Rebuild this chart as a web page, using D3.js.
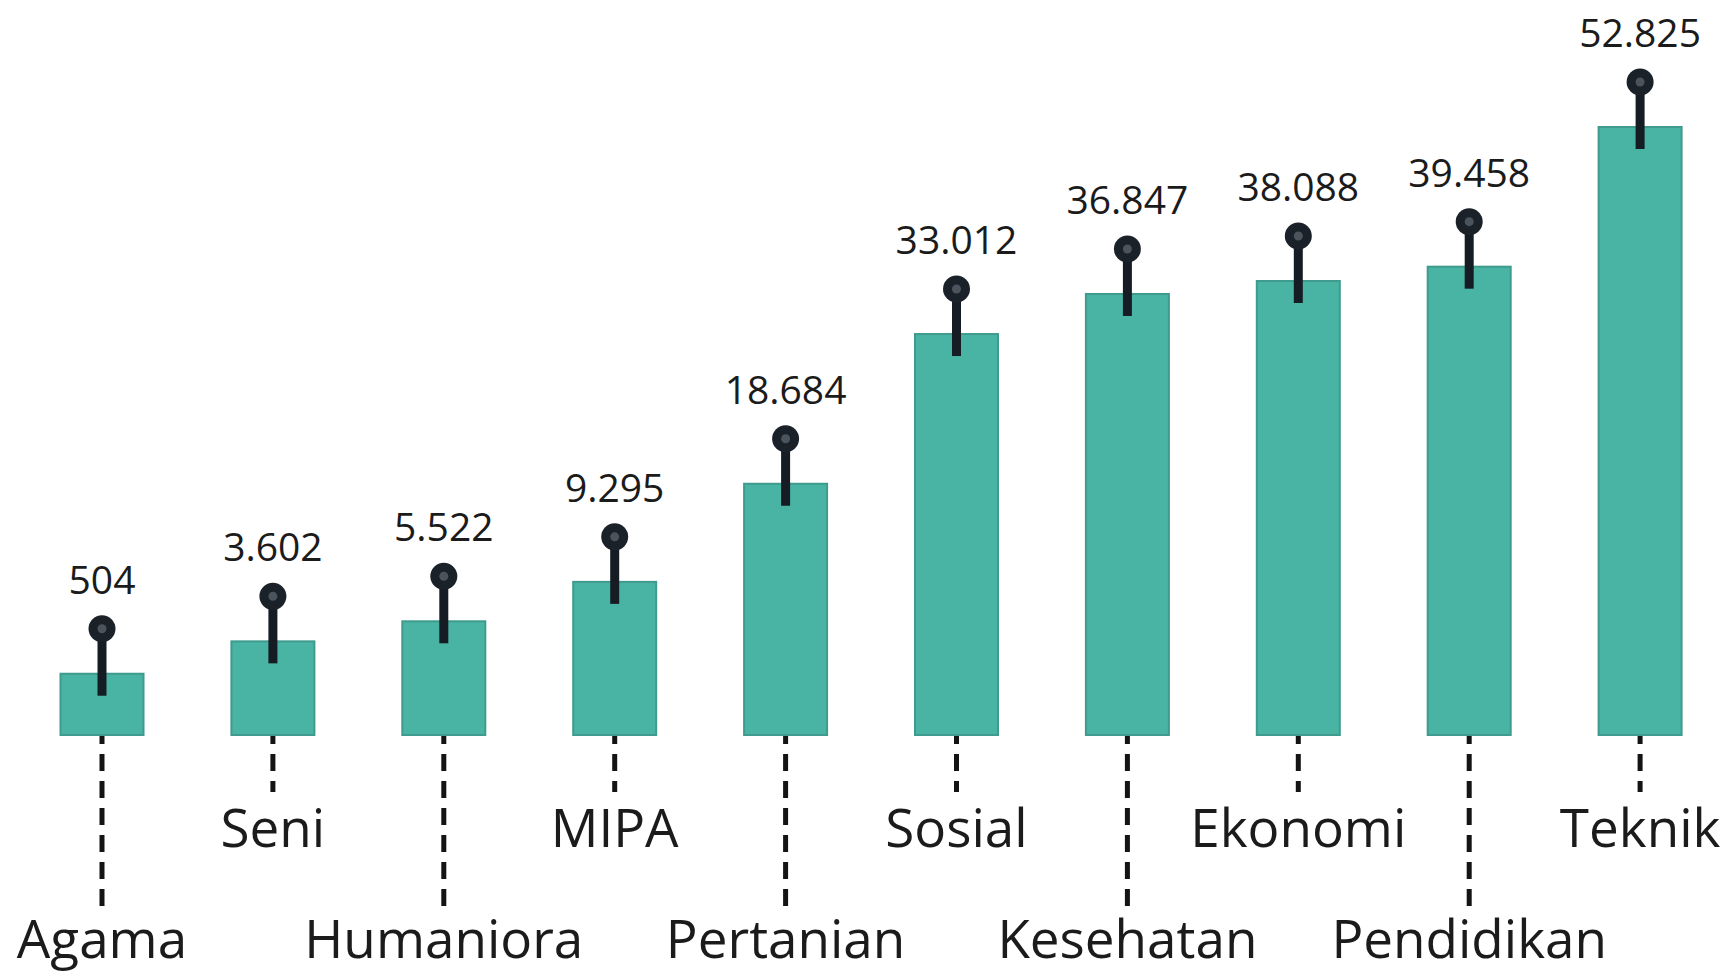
<!DOCTYPE html>
<html>
<head>
<meta charset="utf-8">
<script src="https://cdn.jsdelivr.net/npm/d3@7"></script>
<style>
  html, body { margin: 0; padding: 0; background: #ffffff; }
  svg { display: block; }
  text { font-family: "Open Sans", "Noto Sans", sans-serif; fill: #1b1b1b; }
</style>
</head>
<body>
<svg id="chart" width="1736" height="974"></svg>
<script>
// Number of students per field of study
const categories = ["Agama", "Seni", "Humaniora", "MIPA", "Pertanian", "Sosial", "Kesehatan", "Ekonomi", "Pendidikan", "Teknik"];
const values = [504, 3602, 5522, 9295, 18684, 33012, 36847, 38088, 39458, 52825];

const width = 1736, height = 974;
const baseline = 735;

const svg = d3.select("#chart");

// Indonesian number format: "." as thousands separator
const idLocale = d3.formatLocale({ decimal: ",", thousands: ".", grouping: [3], currency: ["Rp", ""] });
const fmt = idLocale.format(",");

const x = d3.scaleBand()
  .domain(categories)
  .range([60.5, 1681.6])
  .paddingInner(0.5143)
  .paddingOuter(0);

// Bars keep a minimum visible height so the smallest fields stay readable
const y = d3.scaleLinear()
  .domain([0, d3.max(values)])
  .range([baseline - 56, baseline - 608]);

const data = categories.map((c, i) => ({ c, v: values[i], i }));
const cx = d => x(d.c) + x.bandwidth() / 2;

// Dashed leaders from each bar down to its label (alternating rows)
svg.append("g").selectAll("line")
  .data(data)
  .join("line")
  .attr("x1", cx).attr("x2", cx)
  .attr("y1", baseline - 8)
  .attr("y2", d => d.i % 2 === 0 ? 910 : 792)
  .attr("stroke", "#141414")
  .attr("stroke-width", 5)
  .attr("stroke-dasharray", "17,10");

// Bars
svg.append("g").selectAll("rect")
  .data(data)
  .join("rect")
  .attr("x", d => x(d.c))
  .attr("width", x.bandwidth())
  .attr("y", d => y(d.v))
  .attr("height", d => baseline - y(d.v))
  .attr("fill", "#49b3a4")
  .attr("stroke", "#3f9b8d")
  .attr("stroke-width", 2);

// Pins: stem + round head above each bar
const pins = svg.append("g").selectAll("g")
  .data(data)
  .join("g");

pins.append("line")
  .attr("x1", cx).attr("x2", cx)
  .attr("y1", d => y(d.v) - 45)
  .attr("y2", d => Math.min(y(d.v) + 22, baseline - 14))
  .attr("stroke", "#161c24")
  .attr("stroke-width", 9);

pins.append("circle")
  .attr("cx", cx)
  .attr("cy", d => y(d.v) - 45)
  .attr("r", 13.5)
  .attr("fill", "#1a2129");

pins.append("circle")
  .attr("cx", cx)
  .attr("cy", d => y(d.v) - 45)
  .attr("r", 4.5)
  .attr("fill", "#4b545d");

// Value labels
svg.append("g").selectAll("text")
  .data(data)
  .join("text")
  .attr("x", cx)
  .attr("y", d => y(d.v) - 80)
  .attr("text-anchor", "middle")
  .attr("font-size", 39)
  .text(d => fmt(d.v));

// Category labels on two staggered rows
svg.append("g").selectAll("text")
  .data(data)
  .join("text")
  .attr("x", cx)
  .attr("y", d => d.i % 2 === 0 ? 958 : 847)
  .attr("text-anchor", "middle")
  .attr("font-size", 53)
  .text(d => d.c);
</script>
</body>
</html>
